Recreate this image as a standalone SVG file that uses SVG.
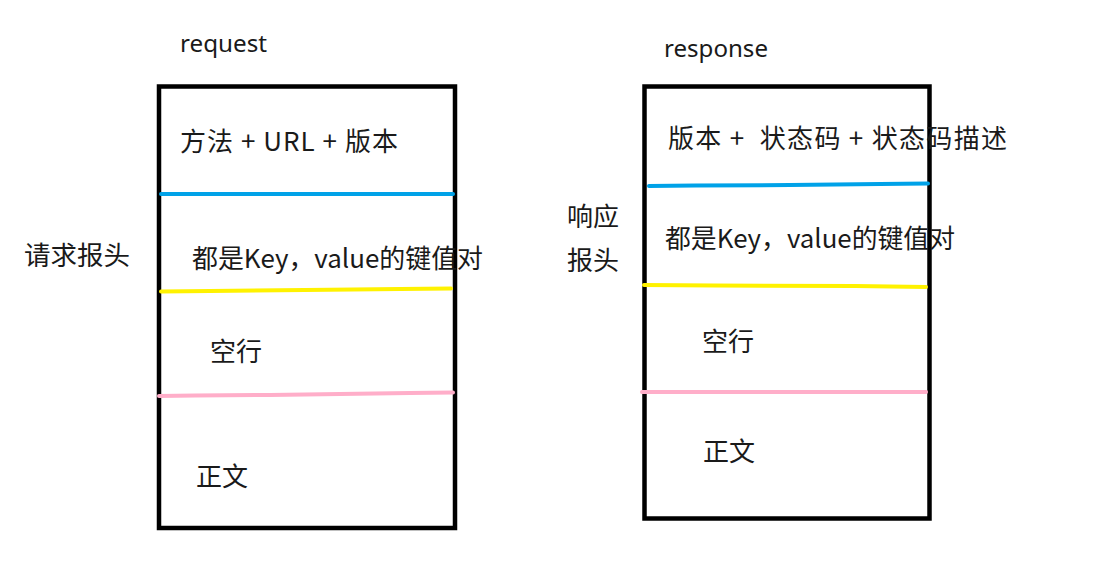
<svg xmlns="http://www.w3.org/2000/svg" width="1096" height="570" viewBox="0 0 1096 570">
<style>
.t{font-family:"Noto Sans CJK SC","Noto Sans",sans-serif;font-size:26px;fill:#1a1a1a}
.h{font-family:"Noto Sans","Noto Sans CJK SC",sans-serif;font-size:24px;fill:#1a1a1a}
.box{fill:none;stroke:#000;stroke-width:4.5}
.sep{fill:none;stroke-width:4;stroke-linecap:round}
.blue{stroke:#00a2e8}
.yellow{stroke:#fff200}
.pink{stroke:#ffaec9}
</style>
<rect width="1096" height="570" fill="#fff"/>
<g id="request">
<text class="h" x="180" y="52" textLength="87" lengthAdjust="spacingAndGlyphs">request</text>
<rect class="box" x="159" y="86.5" width="296" height="441.5"/>
<text class="t" x="180" y="151" textLength="218" lengthAdjust="spacing" xml:space="preserve">方法 + URL + 版本</text>
<text class="t" x="192" y="268" textLength="291" lengthAdjust="spacingAndGlyphs">都是Key，value的键值对</text>
<text class="t" x="210" y="361">空行</text>
<text class="t" x="196" y="486">正文</text>
</g>
<g id="response">
<text class="h" x="664" y="57" textLength="104" lengthAdjust="spacingAndGlyphs">response</text>
<rect class="box" x="644.5" y="86.5" width="285" height="432"/>
<text class="t" x="668" y="148" textLength="339" lengthAdjust="spacing" xml:space="preserve">版本 +  状态码 + 状态码描述</text>
<text class="t" x="665" y="248" textLength="290" lengthAdjust="spacingAndGlyphs">都是Key，value的键值对</text>
<text class="t" x="702" y="351">空行</text>
<text class="t" x="703" y="461">正文</text>
</g>
<g id="req-header-label">
<text class="t" x="24" y="265" textLength="106" lengthAdjust="spacingAndGlyphs">请求报头</text>
</g>
<g id="resp-header-label">
<text class="t" x="567" y="226">响应</text>
<text class="t" x="567" y="270">报头</text>
</g>
<g id="connectors">
<path class="sep blue" d="M161 194 L453 194"/>
<path class="sep yellow" d="M161 291.5 L210 291 L305 290 L400 289 L451 288.5"/>
<path class="sep pink" d="M159 396 L195 395.5 L270 395 L340 394 L410 393 L453 392.5"/>
<path class="sep blue" d="M649 186 L695 185.5 L790 185 L880 184 L928 183.5"/>
<path class="sep yellow" d="M644 285 L715 285.5 L855 286 L926 287"/>
<path class="sep pink" d="M642 392 L926 392"/>
</g>
</svg>
